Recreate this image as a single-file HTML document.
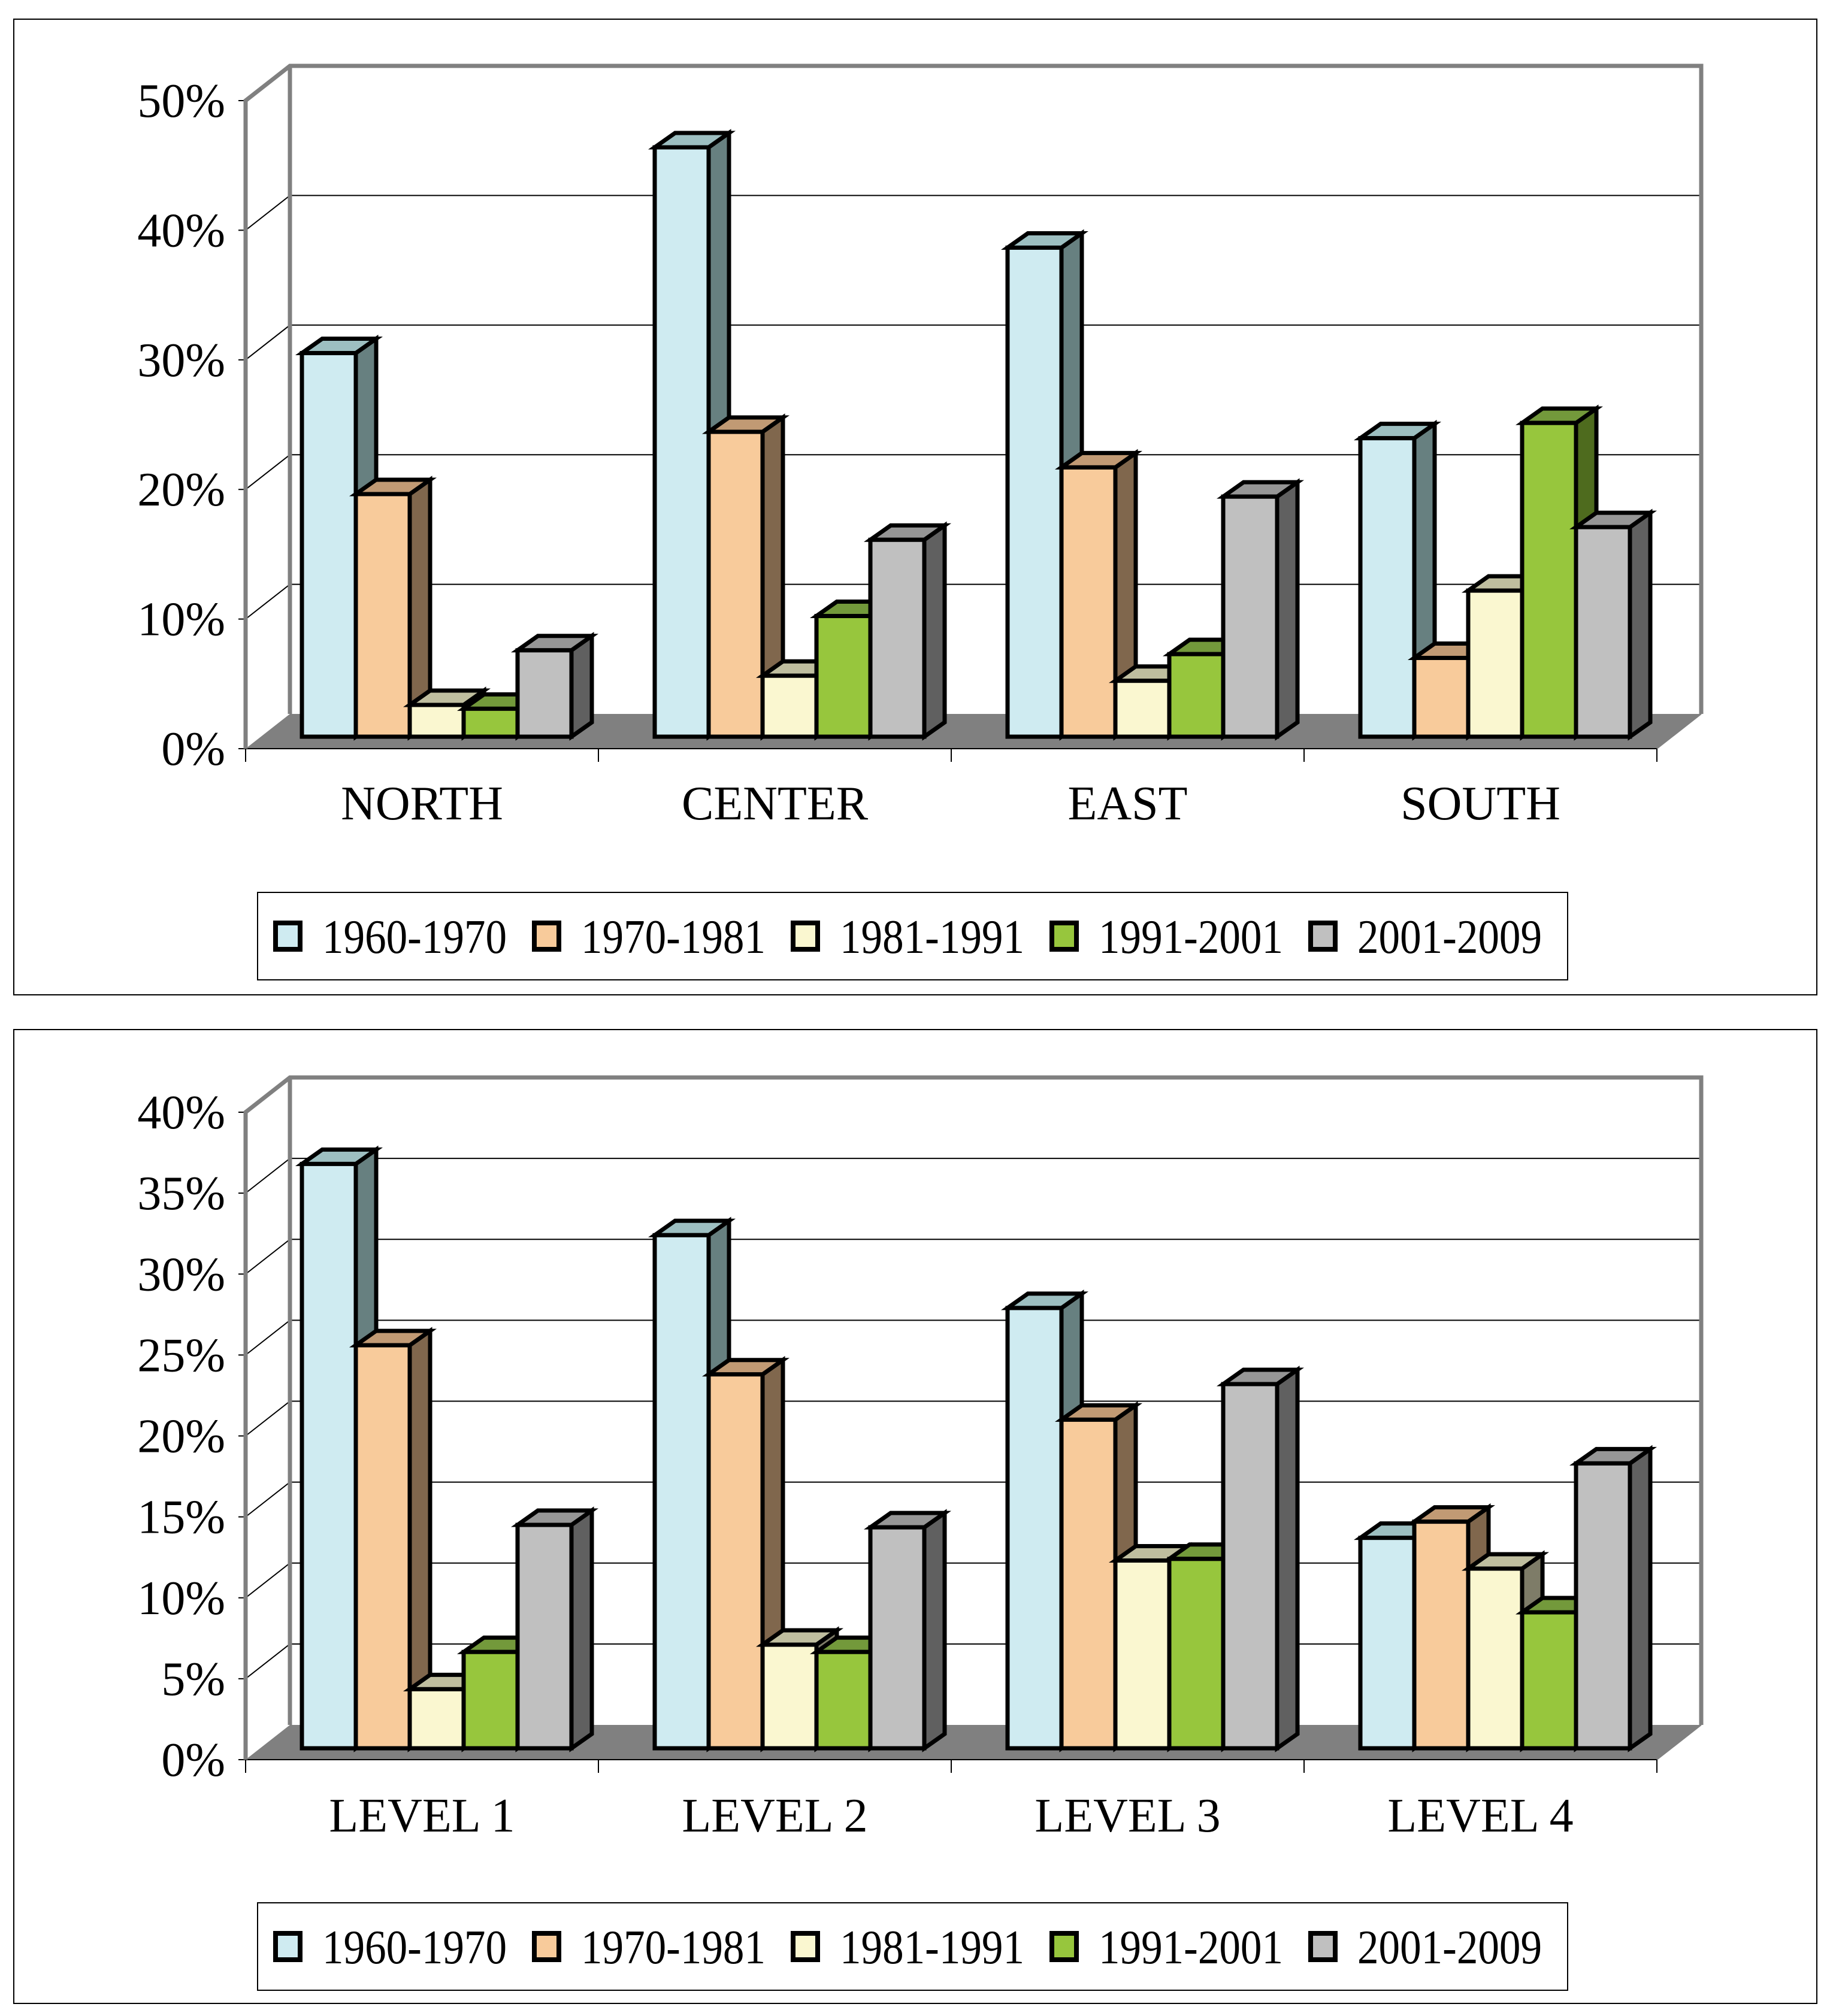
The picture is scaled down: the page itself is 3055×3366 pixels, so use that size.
<!DOCTYPE html>
<html><head><meta charset="utf-8"><style>
html,body{margin:0;padding:0;background:#fff;}
svg{display:block;font-family:"Liberation Serif",serif;}
</style></head><body>
<svg id="svg" width="3055" height="3366" viewBox="0 0 3055 3366" xmlns="http://www.w3.org/2000/svg"></svg>
<script>
const seriesNames = ["1960-1970","1970-1981","1981-1991","1991-2001","2001-2009"];
const chart1Categories = ["NORTH","CENTER","EAST","SOUTH"];
const chart1S1 = [30.2, 46.4, 38.5, 23.5];
const chart1S2 = [19.1, 24.0, 21.2, 6.2];
const chart1S3 = [2.5, 4.8, 4.4, 11.5];
const chart1S4 = [2.2, 9.5, 6.5, 24.7];
const chart1S5 = [6.8, 15.5, 18.9, 16.5];
const chart1Ticks = [0,10,20,30,40,50];
const chart1TickLabels = ["0%","10%","20%","30%","40%","50%"];
const chart2Categories = ["LEVEL 1","LEVEL 2","LEVEL 3","LEVEL 4"];
const chart2S1 = [36.1, 31.7, 27.2, 13.0];
const chart2S2 = [24.9, 23.1, 20.3, 14.0];
const chart2S3 = [3.65, 6.4, 11.6, 11.1];
const chart2S4 = [5.95, 5.95, 11.7, 8.4];
const chart2S5 = [13.8, 13.65, 22.5, 17.6];
const chart2Ticks = [0,5,10,15,20,25,30,35,40];
const chart2TickLabels = ["0%","5%","10%","15%","20%","25%","30%","35%","40%"];

const NS="http://www.w3.org/2000/svg";
const svg=document.getElementById('svg');
const front=["#CFEBF1","#F8CB9B","#FAF7D0","#97C63D","#C0C0C0"];
const side=["#678080","#80674D","#7E7C68","#4E6B1E","#606060"];
const topc=["#9DBFC1","#C19A74","#BFBE9F","#73993B","#969696"];
function mk(tag,attrs,parent){const e=document.createElementNS(NS,tag);for(const k in attrs)e.setAttribute(k,attrs[k]);(parent||svg).appendChild(e);return e;}

function drawChart(o){
  const g=mk('g',{});
  
  
  const box=mk('rect',{x:o.bx,y:o.by,width:3033-o.bx,height:o.bb-o.by,fill:'#fff',stroke:'#000','stroke-width':2},g);
  
  
  const x0=410,x1=x0+4*o.cw,dx=74,dy=-58;
  const yF=v=>o.y0-(v/o.max)*(o.y0-o.ytop);
  const yB=v=>o.barBase-o.barK*(v/o.max)*(o.y0-o.ytop);
  const fl=mk('polygon',{points:`${x0},${o.y0} ${x1},${o.y0} ${x1+dx},${o.y0+dy} ${x0+dx},${o.y0+dy}`,fill:'#808080'},g);
  
  
  mk('line',{x1:x0,y1:o.y0,x2:x1,y2:o.y0,stroke:'#000','stroke-width':2},g);
  o.ticks.forEach((t,i)=>{
    const y=yF(t);
    if(t>0&&t<o.max){
      const gl=mk('polyline',{points:`${x0},${y} ${x0+dx},${y+dy} ${x1+dx},${y+dy}`,fill:'none',stroke:'#000','stroke-width':2},g);
      
      
    }
    mk('line',{x1:x0-12,y1:y,x2:x0,y2:y,stroke:'#000','stroke-width':2},g);
    const tl=mk('text',{x:376,y:y+27,'text-anchor':'end','font-size':80},g);
    tl.textContent=o.tickLabels[i];
    
    
  });
  const wall=mk('polyline',{points:`${x0},${o.y0} ${x0},${yF(o.max)} ${x0+dx},${yF(o.max)+dy} ${x1+dx},${yF(o.max)+dy} ${x1+dx},${o.y0+dy}`,fill:'none',stroke:'#808080','stroke-width':7},g);
  
  
  mk('line',{x1:x0+dx,y1:yF(o.max)+dy,x2:x0+dx,y2:o.y0+dy,stroke:'#808080','stroke-width':7},g);
  mk('line',{x1:x1,y1:o.y0,x2:x1+dx,y2:o.y0+dy,stroke:'#808080','stroke-width':2},g);
  for(let i=0;i<=4;i++) mk('line',{x1:x0+i*o.cw,y1:o.y0,x2:x0+i*o.cw,y2:o.y0+22,stroke:'#000','stroke-width':2},g);
  o.cats.forEach((c,i)=>{
    const t=mk('text',{x:x0+(i+0.5)*o.cw,y:o.catY,'text-anchor':'middle','font-size':80},g);
    t.textContent=c;
    
    
  });
  const bw=90,bdx=34,bdy=-24;
  o.cats.forEach((c,ci)=>{
    o.series.forEach((arr,si)=>{
      const v=arr[ci];
      const l=x0+ci*o.cw+94+si*bw, r=l+bw, top=yB(v), b=o.barBase;
      const bg=mk('g',{stroke:'#000','stroke-width':7,'stroke-linejoin':'miter'},g);
      
      
      mk('polygon',{points:`${r},${b} ${r+bdx},${b+bdy} ${r+bdx},${top+bdy} ${r},${top}`,fill:side[si]},bg);
      mk('polygon',{points:`${l},${top} ${l+bdx},${top+bdy} ${r+bdx},${top+bdy} ${r},${top}`,fill:topc[si]},bg);
      mk('rect',{x:l,y:top,width:bw,height:b-top,fill:front[si]},bg);
    });
  });
  const lg=mk('g',{},g);
  
  
  mk('rect',{x:430,y:o.ly,width:2187,height:146,fill:'#fff',stroke:'#000','stroke-width':2},lg);
  seriesNames.forEach((n,i)=>{
    const sx=456+432*i, cy=o.ly+73;
    const e=mk('g',{},lg);
    
    
    mk('rect',{x:sx+4,y:cy-22,width:41,height:44,fill:front[i],stroke:'#000','stroke-width':8},e);
    const t=mk('text',{x:sx+82,y:cy+28,'font-size':80,textLength:308,lengthAdjust:'spacingAndGlyphs'},e);
    t.textContent=n;
  });
}
drawChart({name:'chart-region',bx:23,by:32,bb:1661,y0:1250,ytop:168,max:50,barBase:1230,barK:0.98,cw:589,
  cats:chart1Categories,series:[chart1S1,chart1S2,chart1S3,chart1S4,chart1S5],ticks:chart1Ticks,tickLabels:chart1TickLabels,catY:1368,ly:1490});
drawChart({name:'chart-level',bx:23,by:1719,bb:3345,y0:2938,ytop:1857,max:40,barBase:2919,barK:1,cw:589,
  cats:chart2Categories,series:[chart2S1,chart2S2,chart2S3,chart2S4,chart2S5],ticks:chart2Ticks,tickLabels:chart2TickLabels,catY:3058,ly:3177});
</script>
</body></html>
